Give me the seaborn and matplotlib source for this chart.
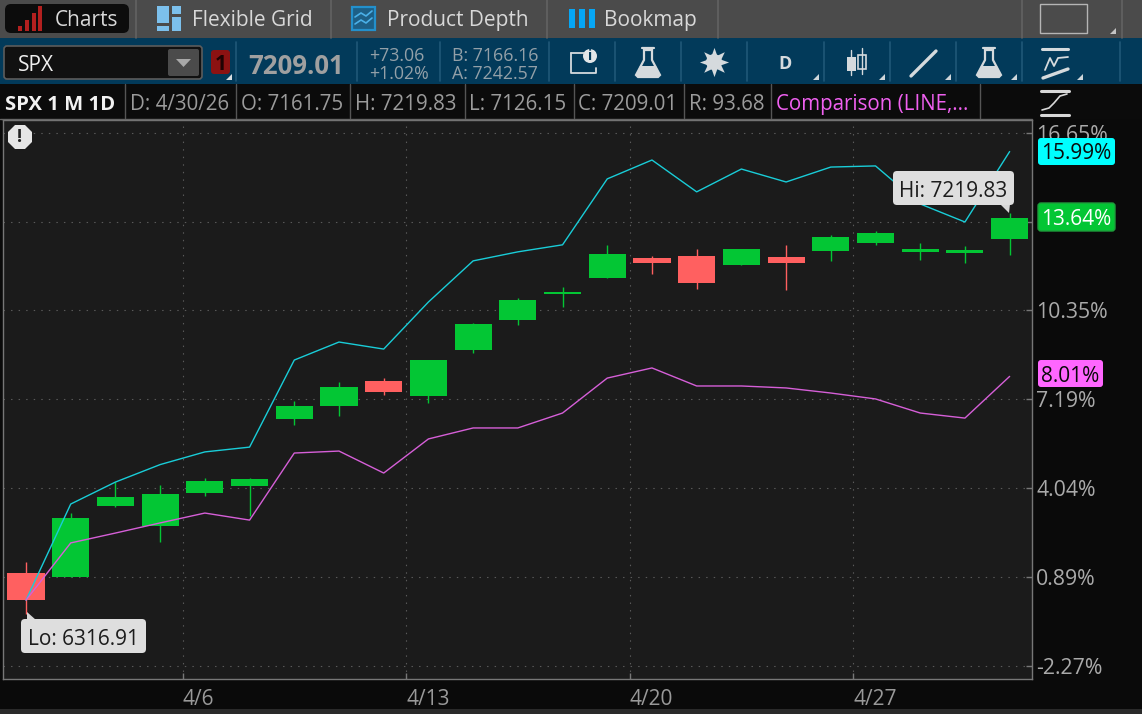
import numpy as np
import pandas as pd
import seaborn as sns
import matplotlib
matplotlib.use("Agg")
import matplotlib.pyplot as plt
from matplotlib.patches import FancyBboxPatch, Polygon, Rectangle, Circle

# Daily candles, in percent from the comparison base
dates = ['3/30', '3/31', '4/1', '4/2', '4/6', '4/7', '4/8', '4/9', '4/10', '4/13', '4/14', '4/15',
         '4/16', '4/17', '4/20', '4/21', '4/22', '4/23', '4/24', '4/27', '4/28', '4/29', '4/30']
opens = [1.03, 0.89, 3.41, 2.70, 3.87, 4.12, 6.50, 6.96, 7.85, 7.32, 8.95, 10.01,
         10.94, 11.50, 12.21, 12.28, 11.97, 12.25, 12.46, 12.75, 12.42, 12.39, 12.90]
closes = [0.07, 2.98, 3.73, 3.84, 4.30, 4.37, 6.96, 7.63, 7.46, 8.59, 9.87, 10.72,
          11.01, 12.36, 12.04, 11.33, 12.53, 12.04, 12.96, 13.10, 12.53, 12.50, 13.64]
highs = [1.42, 3.16, 4.26, 4.16, 4.40, 4.40, 7.14, 7.81, 7.95, 8.59, 9.91, 10.79,
         11.19, 12.68, 12.28, 12.53, 12.53, 12.68, 13.03, 13.17, 12.75, 12.64, 13.81]
lows = [-0.42, 0.89, 3.37, 2.13, 3.76, 3.05, 6.29, 6.60, 7.35, 7.07, 8.84, 9.84,
        10.47, 11.50, 11.65, 11.11, 11.97, 11.08, 12.11, 12.68, 12.14, 12.04, 12.32]

# Comparison lines
cyan_pct = [0.07, 3.48, 4.26, 4.88, 5.33, 5.50, 8.59, 9.23, 8.98, 10.65, 12.11, 12.43,
            12.68, 15.02, 15.69, 14.56, 15.37, 14.91, 15.44, 15.48, 14.13, 13.49, 15.99]
magenta_pct = [0.07, 2.10, 2.45, 2.81, 3.16, 2.91, 5.29, 5.36, 4.58, 5.79, 6.18, 6.18,
               6.71, 7.95, 8.31, 7.67, 7.67, 7.60, 7.42, 7.21, 6.71, 6.53, 8.01]

y_ticks = [16.65, 13.50, 10.35, 7.19, 4.04, 0.89, -2.27]
x_tick_dates = ['4/6', '4/13', '4/20', '4/27']

GREEN = '#03c634'
RED = '#ff6060'
CYAN = '#19cdd8'
MAGENTA = '#d65fd8'
W, H = 1142, 714

sns.set_theme(style="dark")
plt.rcParams['font.family'] = ['Open Sans', 'DejaVu Sans']

df = pd.DataFrame({'idx': range(len(dates)), 'open': opens, 'close': closes, 'high': highs,
                   'low': lows, 'cyan': cyan_pct, 'magenta': magenta_pct})

fig = plt.figure(figsize=(W / 100, H / 100), dpi=100, facecolor='#0a0a0a')
ax = fig.add_axes([3 / W, 1 - 679 / H, 1029 / W, 559 / H], facecolor='#1b1b1b')

# candles
up = df[df['close'] >= df['open']]
down = df[df['close'] < df['open']]
ax.bar(up['idx'], up['close'] - up['open'], bottom=up['open'], width=0.83, color=GREEN,
       edgecolor='none', linewidth=0, zorder=3)
ax.bar(down['idx'], down['open'] - down['close'], bottom=down['close'], width=0.83, color=RED,
       edgecolor='none', linewidth=0, zorder=3)
ax.vlines(up['idx'], up['low'], up['high'], color=GREEN, lw=1.0, zorder=3)
ax.vlines(down['idx'], down['low'], down['high'], color=RED, lw=1.0, zorder=3)

sns.lineplot(data=df, x='idx', y='cyan', color=CYAN, lw=1.0, ax=ax, zorder=4, errorbar=None)
sns.lineplot(data=df, x='idx', y='magenta', color=MAGENTA, lw=1.0, ax=ax, zorder=4, errorbar=None)

ax.set_xlim(-0.515, 22.5)
ax.set_ylim(-2.73, 17.11)
ax.set_xlabel('')
ax.set_ylabel('')
ax.set_xticks([dates.index(d) - 0.5 for d in x_tick_dates])
ax.set_xticklabels(x_tick_dates)
ax.set_yticks(y_ticks)
ax.set_yticklabels([f'{v:.2f}%' for v in y_ticks])
ax.yaxis.tick_right()
ax.tick_params(axis='y', direction='in', length=4, width=1, color='#777777', labelcolor='#aaaaaa',
               labelsize=15.3, pad=3, right=True)
ax.tick_params(axis='x', direction='in', length=4, width=1, color='#777777', labelcolor='#999999',
               labelsize=15, pad=7, bottom=True)
plt.setp(ax.get_xticklabels(), ha='left')
plt.setp(ax.get_yticklabels(), va='center_baseline')
ax.grid(True, color='#5a5a5a', lw=0.8, linestyle=(0, (1.3, 5.5)), zorder=1)
for side in ax.spines:
    ax.spines[side].set_color('#777777')
    ax.spines[side].set_linewidth(1.0)
    ax.spines[side].set_visible(True)

# Platform chrome, drawn in pixel coordinates on top of the chart
ui = fig.add_axes([0, 0, 1, 1], facecolor='none', zorder=5)
ui.set_xlim(0, W)
ui.set_ylim(H, 0)
ui.axis('off')


def rect(x0, y0, x1, y1, color, **kw):
    ui.add_patch(Rectangle((x0, y0), x1 - x0, y1 - y0, facecolor=color, edgecolor='none', **kw))


def rrect(x0, y0, x1, y1, color, edge='none', r=3, lw=1):
    ui.add_patch(FancyBboxPatch((x0 + r, y0 + r), x1 - x0 - 2 * r, y1 - y0 - 2 * r,
                                boxstyle=f'round,pad={r},rounding_size={r}',
                                facecolor=color, edgecolor=edge, lw=lw))


def label(x, y, s, color='#d8d8d8', size=15, weight='normal', ha='left'):
    ui.text(x, y, s, color=color, fontsize=size, fontweight=weight, ha=ha, va='center_baseline')


def corner(x, y, color='#cfd6da', s=6):
    ui.add_patch(Polygon([(x, y), (x - s, y), (x, y - s)], facecolor=color, edgecolor='none'))


def flask(cx):
    ui.add_patch(Polygon([(cx - 4, 50), (cx + 4, 50), (cx + 4, 60), (cx + 12, 75), (cx + 10, 77),
                          (cx - 10, 77), (cx - 12, 75), (cx - 4, 60)],
                         facecolor='none', edgecolor='#d5dadd', lw=1.6))
    ui.add_patch(Polygon([(cx - 8, 66), (cx + 8, 66), (cx + 12, 75), (cx + 10, 77), (cx - 10, 77),
                          (cx - 12, 75)], facecolor='#d5dadd', edgecolor='none'))
    ui.plot([cx - 6, cx + 6], [48, 48], color='#d5dadd', lw=1.6)


# top tab bar
rect(0, 0, W, 38, '#4b4b4b')
rect(0, 38, W, 84, '#023a5a')
rect(0, 84, W, 119, '#0b0b0b')
rect(0, 709, W, 714, '#2a2a2a')
for x in [136, 331, 547, 718, 1022, 1122]:
    ui.plot([x, x], [0, 38], color='#636363', lw=1.2)
rrect(5, 4, 129, 33, '#0c0c0c', r=6)
for x, top in zip([20, 27, 34, 40], [26, 20, 13, 6]):
    rect(x - 2, top, x + 2, 31, '#b3201f')
label(55, 18, 'Charts')
rect(157, 6, 169, 23, '#7cc0ec')
rect(172, 6, 181, 14, '#7cc0ec')
rect(172, 17, 181, 31, '#7cc0ec')
rect(157, 26, 169, 31, '#7cc0ec')
label(192, 18, 'Flexible Grid')
ui.add_patch(Rectangle((352, 7), 23, 23, facecolor='#1d5f86', edgecolor='#2390cc', lw=1.6))
ui.plot([355, 361, 366, 372], [17, 13, 16, 11], color='#4ab0e8', lw=1.2)
ui.plot([355, 361, 366, 372], [24, 20, 23, 18], color='#4ab0e8', lw=1.2)
label(387, 18, 'Product Depth')
for x in [569, 579, 589]:
    rect(x, 9, x + 6, 28, '#06a6f5')
label(604, 18, 'Bookmap')
ui.add_patch(Rectangle((1040, 4), 47, 29, facecolor='none', edgecolor='#b5b5b5', lw=1))
corner(1116, 34, '#c4c4c4')

# symbol row
rrect(4, 46, 202, 79, '#111111', edge='#5c5c5c', r=3, lw=1.2)
label(18, 63, 'SPX', color='#f0f0f0')
rrect(168, 49, 199, 76, '#4b4b4b', r=2)
ui.add_patch(Polygon([(176, 59), (191, 59), (183.5, 67)], facecolor='#a8a8a8', edgecolor='none'))
rrect(211, 50, 230, 74, '#8c1212', r=3)
label(220.5, 62, '1', color='#1f0303', size=15, weight='bold', ha='center')
corner(232, 80, '#d8dde0')
for x in [236, 357, 440, 549, 615, 681, 747, 824, 890, 956, 1022, 1120]:
    ui.plot([x, x], [42, 81], color='#1f5878', lw=1.2)
label(248, 63, '7209.01', color='#a0a0a0', size=18.5, weight='bold')
label(369, 54, '+73.06', color='#93a0a8', size=12.8)
label(369, 72, '+1.02%', color='#93a0a8', size=12.8)
label(452, 54, 'B: 7166.16', color='#93a0a8', size=12.8)
label(452, 72, 'A: 7242.57', color='#93a0a8', size=12.8)
ui.plot([571, 571, 596, 596], [53, 73, 73, 68], color='#d5dadd', lw=1.3)
ui.plot([571, 584], [53, 53], color='#d5dadd', lw=1.3)
ui.add_patch(Circle((590, 56), 7, facecolor='#e2e6e8', edgecolor='none'))
ui.text(590, 56, 'i', color='#023a5a', fontsize=10, fontweight='bold', ha='center', va='center')
flask(648)
# gear
ui.plot([714], [62], marker=(8, 1, 0), ms=21, color='#d5dadd', mew=0)
ui.add_patch(Circle((714, 62), 8, facecolor='#d5dadd', edgecolor='none'))
ui.add_patch(Circle((714, 62), 4, facecolor='#023a5a', edgecolor='none'))
label(785, 62, 'D', color='#d5dadd', size=13, weight='bold', ha='center')
corner(819, 80)
ui.plot([851, 851], [50, 75], color='#d5dadd', lw=1)
rect(847, 57, 856, 71, '#d5dadd')
ui.plot([862, 862], [48, 74], color='#d5dadd', lw=1)
ui.add_patch(Rectangle((858, 55), 8, 14, facecolor='#023a5a', edgecolor='#d5dadd', lw=1.2))
corner(885, 80)
ui.plot([911, 936], [76, 51], color='#d5dadd', lw=2.4, solid_capstyle='round')
corner(951, 80)
flask(989)
corner(1017, 80)
ui.plot([1042, 1068], [49, 49], color='#d5dadd', lw=2.2)
ui.plot([1045, 1050, 1054, 1058, 1068], [70, 58, 66, 58, 57], color='#d5dadd', lw=1.3)
ui.plot([1043, 1068], [78, 69], color='#d5dadd', lw=2.4, solid_capstyle='round')
corner(1083, 80)

# quote row
for x in [125, 236, 350, 465, 574, 684, 771, 980]:
    ui.plot([x, x], [84, 118], color='#555555', lw=1)
ui.plot([0, 1032], [118.5, 118.5], color='#666666', lw=1)
label(5, 102, 'SPX 1 M 1D', color='#f2f2f2', size=14.6, weight='bold')
for x, s in [(130, 'D: 4/30/26'), (241, 'O: 7161.75'), (355, 'H: 7219.83'), (469, 'L: 7126.15'),
             (578, 'C: 7209.01'), (689, 'R: 93.68')]:
    label(x, 102, s, color='#9b9b9b', size=14.8)
label(776, 102, 'Comparison (LINE,...', color='#f060f0', size=14.8)
ui.plot([1041, 1069], [91, 91], color='#d8d8d8', lw=2.2)
ui.plot([1041, 1069], [115, 115], color='#d8d8d8', lw=2.2)
ui.plot([1042, 1049, 1054, 1060, 1067], [110, 108, 103, 96, 94], color='#d8d8d8', lw=1.2)

# alert badge
ui.plot([20], [137], marker='8', ms=19, color='#e6e6e6', mew=0)
ui.text(20, 137, '!', color='#222222', fontsize=13, fontweight='bold', ha='center', va='center')

# last value bubbles
rrect(1038, 138, 1115, 165, '#00ffff', r=3)
label(1076.5, 151, '15.99%', color='#0a0a0a', ha='center')
rrect(1038, 203, 1115, 231, '#03c634', edge='#1f9c3c', r=3)
label(1076.5, 217, '13.64%', color='#ffffff', ha='center')
rrect(1038, 360, 1103, 387, '#ff66ff', r=3)
label(1070.5, 374, '8.01%', color='#0a0a0a', ha='center')

# hi / lo callouts
ui.add_patch(Polygon([(1000, 204), (1010, 204), (1009, 213)], facecolor='#d8d8d8', edgecolor='none'))
rrect(893, 171, 1014, 205, '#dedede', r=4)
label(953.5, 189, 'Hi: 7219.83', color='#1c1c1c', ha='center')
ui.add_patch(Polygon([(27, 620), (36, 620), (27, 612)], facecolor='#d8d8d8', edgecolor='none'))
rrect(21, 619, 146, 653, '#dedede', r=4)
label(83.5, 637, 'Lo: 6316.91', color='#1c1c1c', ha='center')

fig.savefig('out.png', dpi=100, facecolor=fig.get_facecolor())
